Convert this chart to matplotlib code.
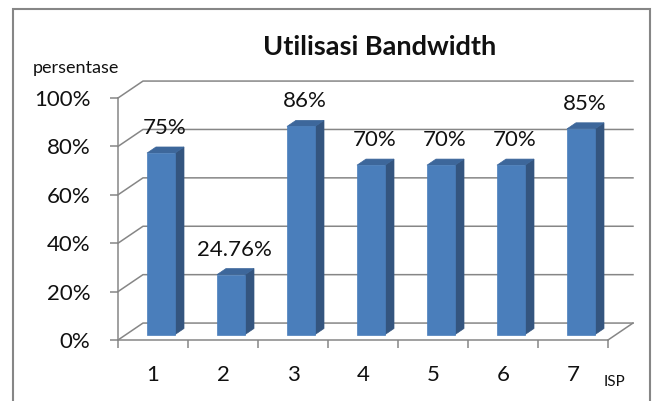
import matplotlib.pyplot as plt
from matplotlib.patches import Polygon, Rectangle

plt.rcParams['font.family'] = ['Lato', 'DejaVu Sans']

# data
isp = ['1', '2', '3', '4', '5', '6', '7']
utilisasi = [75, 24.76, 86, 70, 70, 70, 85]
labels = ['75%', '24.76%', '86%', '70%', '70%', '70%', '85%']
yticks = [0, 20, 40, 60, 80, 100]

# oblique depth of the 3d box, in data units
DX = 0.357
DY = 7.0
GRID = '#868686'
FRONT = '#4A7EBB'
SIDE = '#34557F'
TOP = '#3D679B'
TXT = '#111111'

fig = plt.figure(figsize=(6.56, 4.01), dpi=100)
W, H = 656, 401
ax = fig.add_axes([118 / W, (H - 340) / H, 490 / W, 242 / H])
ax.set_xlim(0, len(isp))
ax.set_ylim(0, 100)

# back wall gridlines + side wall diagonals
for v in yticks:
    ax.plot([0, DX, len(isp) + DX], [v, v + DY, v + DY], color=GRID,
            lw=1.1, clip_on=False, zorder=1)
# right edge of floor
ax.plot([len(isp), len(isp) + DX], [0, DY], color=GRID, lw=1.1,
        clip_on=False, zorder=1)

# 3d bars
bw = 0.4
f0, f1 = 0.32, 0.68
for i, v in enumerate(utilisasi):
    c = i + 0.5
    x0 = c - bw / 2 + f0 * DX
    x1 = c + bw / 2 + f0 * DX
    y0 = f0 * DY
    ddx = (f1 - f0) * DX
    ddy = (f1 - f0) * DY
    front = [(x0, y0), (x1, y0), (x1, y0 + v), (x0, y0 + v)]
    side = [(x1, y0), (x1 + ddx, y0 + ddy), (x1 + ddx, y0 + ddy + v), (x1, y0 + v)]
    top = [(x0, y0 + v), (x1, y0 + v), (x1 + ddx, y0 + ddy + v), (x0 + ddx, y0 + ddy + v)]
    for pts, col in [(side, SIDE), (top, TOP), (front, FRONT)]:
        ax.add_patch(Polygon(pts, closed=True, facecolor=col, edgecolor=col,
                             lw=0.5, clip_on=False, zorder=3))
    ax.annotate(labels[i], (c + f0 * DX + 0.05, y0 + v), xytext=(0, 18),
                textcoords='offset points', ha='center', va='center',
                fontsize=16, color=TXT, zorder=4, annotation_clip=False)

for s in ['top', 'right']:
    ax.spines[s].set_visible(False)
for s in ['left', 'bottom']:
    ax.spines[s].set_color(GRID)
    ax.spines[s].set_linewidth(1.1)

ax.set_yticks(yticks)
ax.set_yticklabels([f'{t}%' for t in yticks], fontsize=16, color=TXT)
ax.set_xticks(range(len(isp) + 1))
ax.set_xticklabels([])
ax.set_xticks([i + 0.5 for i in range(len(isp))], minor=True)
ax.set_xticklabels(isp, minor=True, fontsize=16, color=TXT)
ax.tick_params(axis='both', which='major', direction='out', length=6,
               width=1.1, color=GRID)
ax.tick_params(axis='y', pad=14)
ax.tick_params(axis='x', which='minor', length=0, pad=18)
ax.patch.set_alpha(0)

fig.text(380 / W, 1 - 47 / H, 'Utilisasi Bandwidth', ha='center', va='center',
         fontsize=19.5, fontweight='bold', color=TXT)
fig.text(33 / W, 1 - 68 / H, 'persentase', ha='left', va='center',
         fontsize=13, color=TXT)
fig.text(604 / W, 1 - 382 / H, 'ISP', ha='left', va='center',
         fontsize=11, color=TXT)

# chart area border
fig.patches.append(Rectangle((13 / W, -0.05), 637 / W, 1.05 - 9 / H,
                             transform=fig.transFigure, fill=False,
                             edgecolor=GRID, lw=1.5))

fig.savefig('out.png', dpi=100)
